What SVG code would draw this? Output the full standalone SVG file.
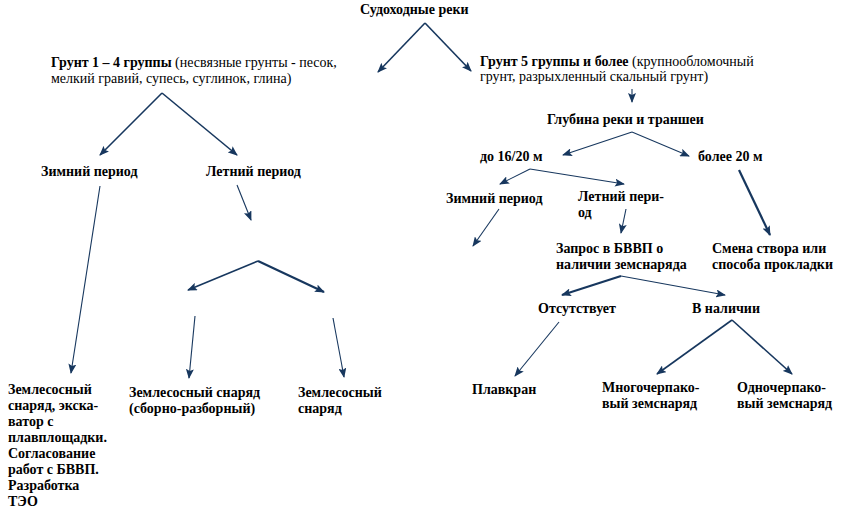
<svg xmlns="http://www.w3.org/2000/svg" width="859" height="511" viewBox="0 0 859 511">
<defs>
<marker id="ah" markerWidth="10" markerHeight="8" refX="9" refY="4" orient="auto" markerUnits="userSpaceOnUse">
<path d="M0,0 L10,4 L0,8 L2,4 z" fill="#17375e"/>
</marker>
</defs>
<style>
svg text.r, svg text.b{font-family:'Liberation Serif','Times New Roman',serif;font-size:14px;fill:#000}
svg text.b{font-weight:bold}
.bt{font-weight:bold}
.c{stroke:#17375e;fill:none;marker-end:url(#ah)}
.t1{stroke-width:1.1}
.t2{stroke-width:1.6}
.t3{stroke-width:2.2}
</style>
<rect width="859" height="511" fill="#fff"/>
<g id="connectors">
<path class="c t2" d="M425,23 L378,72"/>
<path class="c t2" d="M425,23 L471,71"/>
<path class="c t2" d="M162,93 L100,155"/>
<path class="c t2" d="M162,93 L237,155"/>
<path class="c t1" d="M100,186 L71,373"/>
<path class="c t1" d="M237,185 L251,220"/>
<path class="c t2" d="M258,261 L188,290"/>
<path class="c t3" d="M258,261 L324,292"/>
<path class="c t1" d="M195,316 L189,378"/>
<path class="c t1" d="M333,318 L344,377"/>
<path class="c t1" d="M632,89 L632,102"/>
<path class="c t1" d="M632,132 L563,155"/>
<path class="c t1" d="M632,132 L689,156"/>
<path class="c t1" d="M530,169 L500,184"/>
<path class="c t1" d="M530,169 L624,184"/>
<path class="c t1" d="M499,209 L473,246"/>
<path class="c t1" d="M626,209 L621,233"/>
<path class="c t3" d="M739,170 L770,235"/>
<path class="c t3" d="M621,276 L562,295"/>
<path class="c t1" d="M621,276 L725,295"/>
<path class="c t1" d="M559,322 L515,376"/>
<path class="c t2" d="M732,320 L657,374"/>
<path class="c t2" d="M732,320 L792,374"/>
</g>
<g id="n-title"><text class="b" font-family="Liberation Serif" x="360" y="14">Судоходные реки</text></g>
<g id="n-grunt14"><text class="r" font-family="Liberation Serif" x="51" y="67"><tspan class="bt">Грунт 1 – 4 группы</tspan> (несвязные грунты - песок,</text><text class="r" font-family="Liberation Serif" x="51" y="83">мелкий гравий, супесь, суглинок, глина)</text></g>
<g id="n-grunt5"><text class="r" font-family="Liberation Serif" x="480" y="66"><tspan class="bt">Грунт 5 группы и более</tspan> (крупнообломочный</text><text class="r" font-family="Liberation Serif" x="480" y="81">грунт, разрыхленный скальный грунт)</text></g>
<g id="n-winter1"><text class="b" font-family="Liberation Serif" x="41" y="176">Зимний период</text></g>
<g id="n-summer1"><text class="b" font-family="Liberation Serif" x="206" y="176">Летний период</text></g>
<g id="n-res1"><text class="b" font-family="Liberation Serif" x="8" y="394">Землесосный</text><text class="b" font-family="Liberation Serif" x="8" y="410">снаряд, экска-</text><text class="b" font-family="Liberation Serif" x="8" y="426">ватор с</text><text class="b" font-family="Liberation Serif" x="8" y="442">плавплощадки.</text><text class="b" font-family="Liberation Serif" x="8" y="458">Согласование</text><text class="b" font-family="Liberation Serif" x="8" y="474">работ с БВВП.</text><text class="b" font-family="Liberation Serif" x="8" y="490">Разработка</text><text class="b" font-family="Liberation Serif" x="8" y="506">ТЭО</text></g>
<g id="n-res2"><text class="b" font-family="Liberation Serif" x="129" y="397">Землесосный снаряд</text><text class="b" font-family="Liberation Serif" x="129" y="413">(сборно-разборный)</text></g>
<g id="n-res3"><text class="b" font-family="Liberation Serif" x="298" y="397">Землесосный</text><text class="b" font-family="Liberation Serif" x="298" y="413">снаряд</text></g>
<g id="n-depth"><text class="b" font-family="Liberation Serif" x="547" y="124">Глубина реки и траншеи</text></g>
<g id="n-to20"><text class="b" font-family="Liberation Serif" x="480" y="161">до 16/20 м</text></g>
<g id="n-over20"><text class="b" font-family="Liberation Serif" x="698" y="161">более 20 м</text></g>
<g id="n-winter2"><text class="b" font-family="Liberation Serif" x="446" y="203">Зимний период</text></g>
<g id="n-summer2"><text class="b" font-family="Liberation Serif" x="578" y="201">Летний пери-</text><text class="b" font-family="Liberation Serif" x="578" y="217">од</text></g>
<g id="n-request"><text class="b" font-family="Liberation Serif" x="556" y="253">Запрос в БВВП о</text><text class="b" font-family="Liberation Serif" x="556" y="269">наличии земснаряда</text></g>
<g id="n-change"><text class="b" font-family="Liberation Serif" x="712" y="253">Смена створа или</text><text class="b" font-family="Liberation Serif" x="712" y="269">способа прокладки</text></g>
<g id="n-absent"><text class="b" font-family="Liberation Serif" x="538" y="313">Отсутствует</text></g>
<g id="n-present"><text class="b" font-family="Liberation Serif" x="692" y="313">В наличии</text></g>
<g id="n-crane"><text class="b" font-family="Liberation Serif" x="472" y="394">Плавкран</text></g>
<g id="n-multi"><text class="b" font-family="Liberation Serif" x="602" y="392">Многочерпако-</text><text class="b" font-family="Liberation Serif" x="602" y="408">вый земснаряд</text></g>
<g id="n-single"><text class="b" font-family="Liberation Serif" x="737" y="392">Одночерпако-</text><text class="b" font-family="Liberation Serif" x="737" y="408">вый земснаряд</text></g>
</svg>
